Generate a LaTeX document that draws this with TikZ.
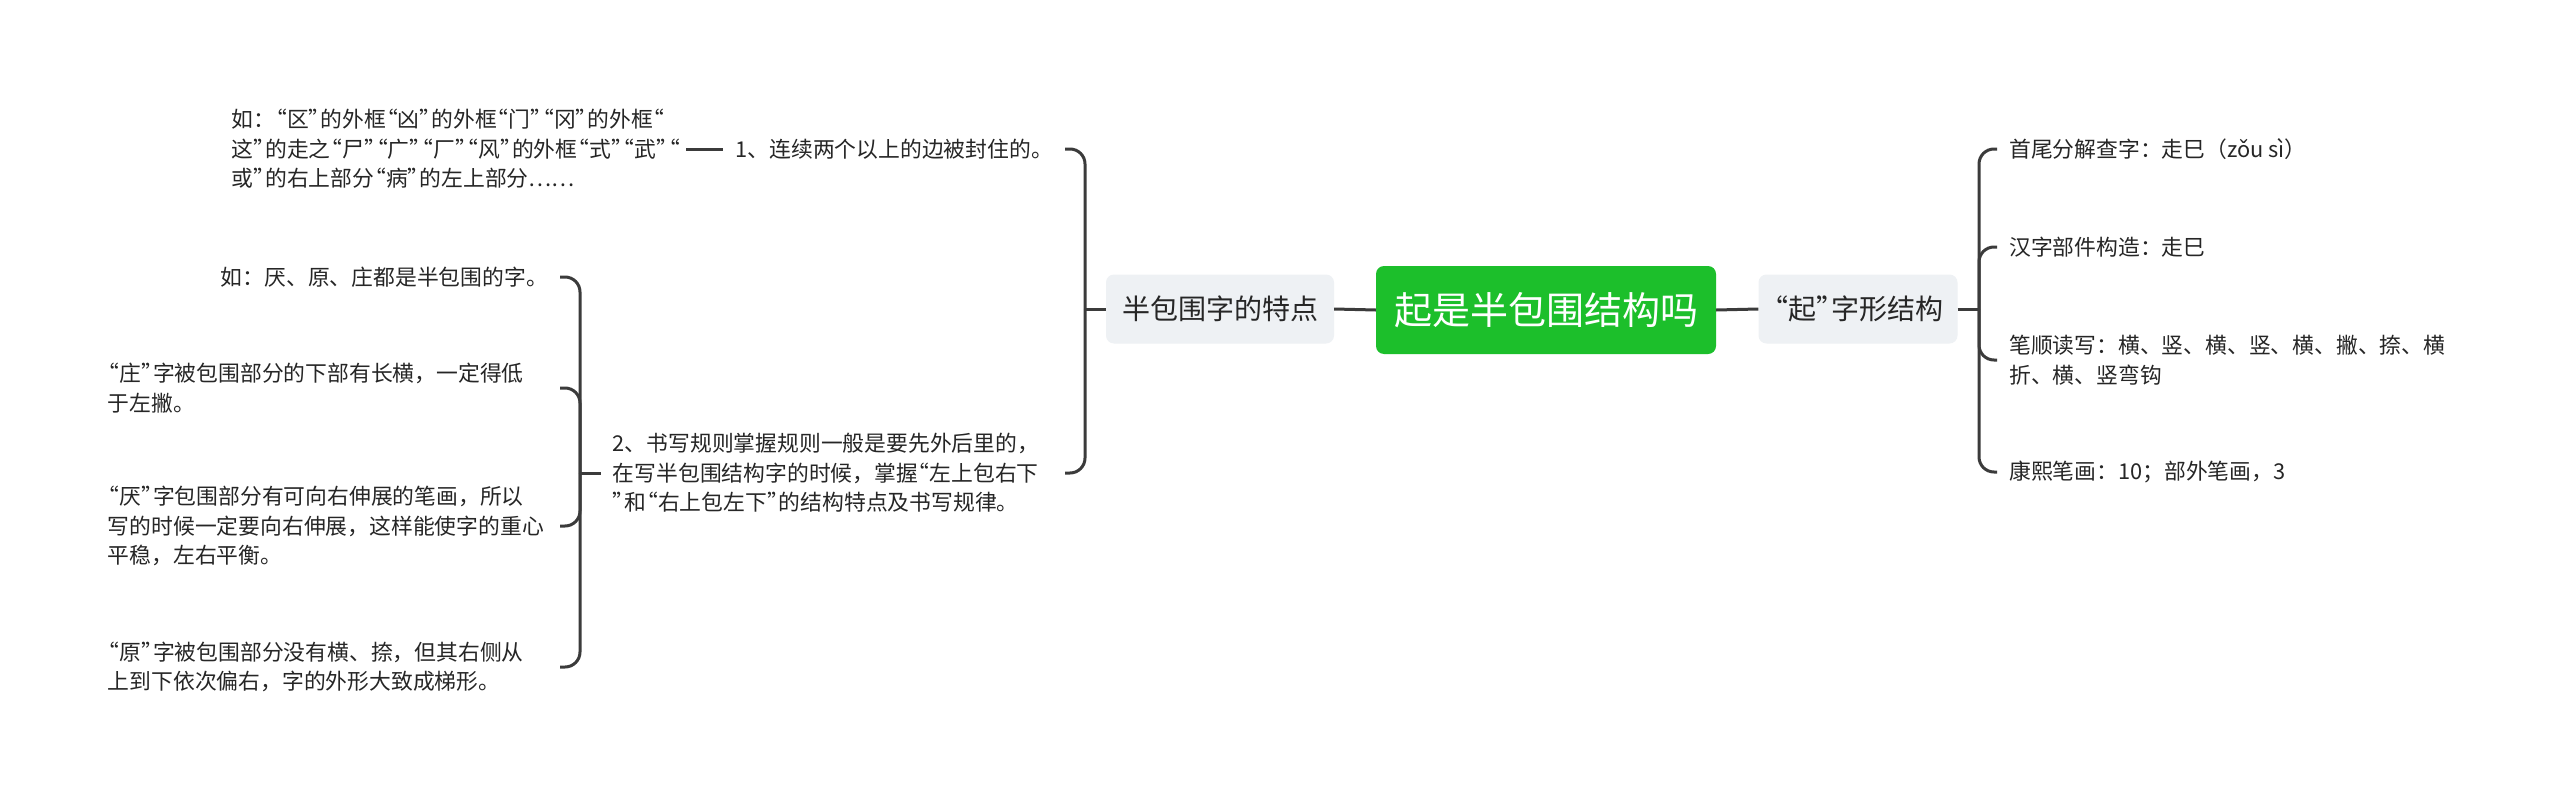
\documentclass[tikz,border=0pt]{standalone}
\usepackage{fontspec}
\setmainfont{Noto Sans CJK SC}
\newcommand\qo{\kern-0.46em“}
\newcommand\qc{”\kern-0.46em}
\definecolor{conncol}{HTML}{3B3B3B}
\definecolor{mainfill}{HTML}{EEF1F4}
\definecolor{rootgreen}{HTML}{1CBF2B}
\definecolor{leafcol}{HTML}{262626}
\begin{document}
\begin{tikzpicture}[x=1pt,y=-1pt,
  leaf/.style={font=\fontsize{21.8}{29.5}\selectfont, text=leafcol, align=left, inner xsep=12pt, inner ysep=3pt},
  wideleaf/.style={leaf, text width=442pt},
  mainnode/.style={fill=mainfill, rounded corners=8pt, font=\fontsize{28}{34}\selectfont, text=leafcol, minimum height=69pt, inner xsep=0pt},
  rootnode/.style={fill=rootgreen, rounded corners=8pt, font=\fontsize{38}{44}\selectfont, text=white, minimum height=88pt, minimum width=340pt},
  conn/.style={draw=conncol, line width=3pt},
  brace/.style={conn, rounded corners=15pt}]
\fill[white] (0,0) rectangle (2560,803);
\useasboundingbox (0,0) rectangle (2560,803);

% main nodes
\node[rootnode] (root) at (1546,310) {起是半包围结构吗};
\node[mainnode, minimum width=228pt] (L) at (1220,309) {半包围字的特点};
\node[mainnode, minimum width=199pt] (R) at (1858,309) {\qo{}起\qc{}字形结构};
\draw[conn] (root.west) -- (L.east);
\draw[conn] (root.east) -- (R.west);

% left branch nodes
\node[leaf, anchor=east] (b1) at (1065,149) {1、连续两个以上的边被封住的。};
\node[wideleaf, text width=440pt, anchor=east] (b2) at (1065,473) {2、书写规则掌握规则一般是要先外后里的，\\在写半包围结构字的时候，掌握\qo{}左上包右下\\\qc{}和\qo{}右上包左下\qc{}的结构特点及书写规律。};
\coordinate (hL) at (1085,309);
\draw[conn] (L.west) -- (hL);
\draw[brace] (hL) -- (1085,149) -- (b1.east);
\draw[brace] (hL) -- (1085,473) -- (b2.east);

% leaf of branch 1
\node[wideleaf, anchor=east] (a1) at (686,149) {如：\qo{}区\qc{}的外框\qo{}凶\qc{}的外框\qo{}门\qc{}\qo{}冈\qc{}的外框\qo{}\\这\qc{}的走之\qo{}尸\qc{}\qo{}广\qc{}\qo{}厂\qc{}\qo{}风\qc{}的外框\qo{}式\qc{}\qo{}武\qc{}\qo{}\\或\qc{}的右上部分\qo{}病\qc{}的左上部分……};
\draw[conn] (a1.east) -- (b1.west);

% leaves of branch 2
\node[leaf, anchor=east] (c1) at (560,277) {如：厌、原、庄都是半包围的字。};
\node[wideleaf, text width=440pt, anchor=east] (c2) at (560,388) {\qo{}庄\qc{}字被包围部分的下部有长横，一定得低\\于左撇。};
\node[wideleaf, text width=440pt, anchor=east] (c3) at (560,526) {\qo{}厌\qc{}字包围部分有可向右伸展的笔画，所以\\写的时候一定要向右伸展，这样能使字的重心\\平稳，左右平衡。};
\node[wideleaf, text width=440pt, anchor=east] (c4) at (560,667) {\qo{}原\qc{}字被包围部分没有横、捺，但其右侧从\\上到下依次偏右，字的外形大致成梯形。};
\coordinate (hB) at (580,473);
\draw[conn] (b2.west) -- (hB);
\draw[brace] (hB) -- (580,277) -- (c1.east);
\draw[brace] (hB) -- (580,388) -- (c2.east);
\draw[brace] (hB) -- (580,526) -- (c3.east);
\draw[brace] (hB) -- (580,667) -- (c4.east);

% right leaves
\node[leaf, anchor=west] (d1) at (1997,149) {首尾分解查字：走巳（zǒu sì）};
\node[leaf, anchor=west] (d2) at (1997,247) {汉字部件构造：走巳};
\node[leaf, anchor=west] (d3) at (1997,360) {笔顺读写：横、竖、横、竖、横、撇、捺、横\\折、横、竖弯钩};
\node[leaf, anchor=west] (d4) at (1997,472) {康熙笔画：10；部外笔画，3};
\coordinate (hR) at (1979,309);
\draw[conn] (R.east) -- (hR);
\draw[brace] (hR) -- (1979,149) -- (d1.west);
\draw[brace] (hR) -- (1979,247) -- (d2.west);
\draw[brace] (hR) -- (1979,360) -- (d3.west);
\draw[brace] (hR) -- (1979,472) -- (d4.west);
\end{tikzpicture}
\end{document}
